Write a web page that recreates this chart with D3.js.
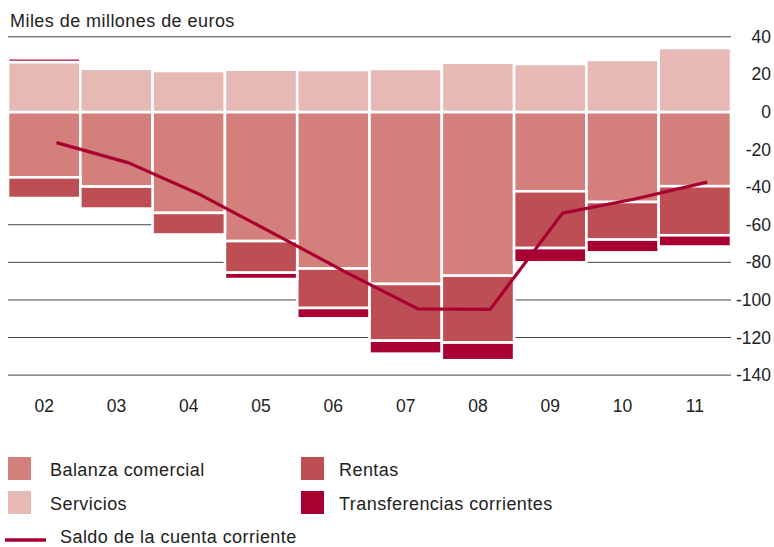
<!DOCTYPE html>
<html>
<head>
<meta charset="utf-8">
<script src="https://cdn.jsdelivr.net/npm/d3@7"></script>
<style>
  body { margin: 0; background: #fff; }
  svg text { font-family: "Liberation Sans", Arial, sans-serif; fill: #222; }
  svg text.label { letter-spacing: 0.45px; }
</style>
</head>
<body>
<div id="chart"></div>
<script>
// Data (miles de millones de euros)
var years          = [ '02', '03', '04', '05', '06', '07', '08', '09', '10', '11' ];
var balanza        = [ -34.8, -39.7, -53.7, -68.7, -83.3, -91.5, -87.1, -42.2, -47.9, -39.5 ];
var servicios      = [ 26.6, 23.0, 21.8, 22.5, 22.3, 22.9, 26.2, 25.5, 27.7, 34.0 ];
var rentas         = [ -11.0, -11.7, -11.5, -16.8, -21.0, -30.2, -35.6, -30.2, -20.0, -26.1 ];
var transferencias = [ 2.0, 0, 0, -3.4, -5.5, -6.9, -9.4, -7.6, -6.8, -6.0 ];
var saldo          = [ -16.3, -27.1, -44.2, -64.6, -85.2, -104.8, -105.0, -53.8, -46.3, -37.3 ];
var y_ticks        = [ 40, 20, 0, -20, -40, -60, -80, -100, -120, -140 ];

var keys   = [ 'balanza', 'servicios', 'rentas', 'transferencias' ];
var names  = {
    balanza: 'Balanza comercial',
    servicios: 'Servicios',
    rentas: 'Rentas',
    transferencias: 'Transferencias corrientes'
};
var colors = {
    balanza: '#d3807c',
    servicios: '#e6b9b4',
    rentas: '#bd4e54',
    transferencias: '#a80030'
};
var line_color = '#a80030';

var rows = years.map(function(y, i) {
    return {
        year: y,
        balanza: balanza[i],
        servicios: servicios[i],
        rentas: rentas[i],
        transferencias: transferencias[i],
        saldo: saldo[i]
    };
});

// The SVG Element
var chart_width  = 774;
var chart_height = 547;
var svg = d3.select('#chart')
    .append('svg')
    .attr('width', chart_width)
    .attr('height', chart_height);

// Scales
var scale_x = d3.scaleBand()
    .domain(years)
    .range([ 8, 731 ]);

var scale_y = d3.scaleLinear()
    .domain([ 40, -140 ])
    .range([ 36.8, 375.1 ]);

// Gridlines + right axis labels
var axis_y = d3.axisRight(scale_y)
    .tickValues(y_ticks)
    .tickSize(0)
    .tickPadding(0);

var grid = svg.append('g').attr('class', 'grid');
grid.selectAll('line')
    .data(y_ticks)
    .enter()
    .append('line')
    .attr('x1', 8)
    .attr('x2', 731)
    .attr('y1', function(d) { return scale_y(d); })
    .attr('y2', function(d) { return scale_y(d); })
    .attr('stroke', '#444')
    .attr('stroke-width', 1);

var gy = svg.append('g')
    .attr('class', 'y-axis')
    .attr('transform', 'translate(771,0)')
    .call(axis_y);
gy.select('.domain').remove();
gy.selectAll('text')
    .attr('x', 0)
    .attr('text-anchor', 'end')
    .style('font-size', '17.5px')
    .text(function(d) { return d; });

// Title
svg.append('text')
    .attr('class', 'label')
    .attr('x', 10)
    .attr('y', 27)
    .style('font-size', '18px')
    .text('Miles de millones de euros');

// Stacked bars
var stack = d3.stack()
    .keys(keys)
    .offset(d3.stackOffsetDiverging);
var series = stack(rows);

var bar_groups = svg.append('g')
    .attr('class', 'bars')
    .selectAll('g')
    .data(series)
    .enter()
    .append('g')
    .attr('fill', function(s) { return colors[s.key]; });

bar_groups.selectAll('rect')
    .data(function(s) {
        return s.filter(function(d) { return d[1] - d[0] !== 0; });
    })
    .enter()
    .append('rect')
    .attr('x', function(d) { return scale_x(d.data.year); })
    .attr('width', scale_x.bandwidth())
    .attr('y', function(d) { return scale_y(d[1]); })
    .attr('height', function(d) { return scale_y(d[0]) - scale_y(d[1]); })
    .attr('stroke', '#fff')
    .attr('stroke-width', 2.6);

// X labels
svg.append('g')
    .attr('class', 'x-labels')
    .selectAll('text')
    .data(years)
    .enter()
    .append('text')
    .attr('x', function(d) { return scale_x(d) + scale_x.bandwidth() / 2; })
    .attr('y', 412)
    .attr('text-anchor', 'middle')
    .style('font-size', '17.5px')
    .text(function(d) { return d; });

// Saldo line (drawn slightly right of the bar centre, like the original)
var line = d3.line()
    .x(function(d) { return scale_x(d.year) + scale_x.bandwidth() * 0.67; })
    .y(function(d) { return scale_y(d.saldo); });

svg.append('path')
    .datum(rows)
    .attr('d', line)
    .attr('fill', 'none')
    .attr('stroke', line_color)
    .attr('stroke-width', 3.2)
    .attr('stroke-linejoin', 'round');

// Legend
var legend_items = [
    { key: 'balanza', x: 8, y: 457 },
    { key: 'servicios', x: 8, y: 491 },
    { key: 'rentas', x: 301, y: 457 },
    { key: 'transferencias', x: 301, y: 491 }
];

var legend = svg.append('g').attr('class', 'legend');
var li = legend.selectAll('g')
    .data(legend_items)
    .enter()
    .append('g')
    .attr('transform', function(d) { return 'translate(' + d.x + ',' + d.y + ')'; });

li.append('rect')
    .attr('width', 23)
    .attr('height', 23)
    .attr('fill', function(d) { return colors[d.key]; });

li.append('text')
    .attr('class', 'label')
    .attr('x', function(d) { return d.x === 8 ? 42 : 38; })
    .attr('y', 19)
    .style('font-size', '18px')
    .text(function(d) { return names[d.key]; });

legend.append('line')
    .attr('x1', 5)
    .attr('x2', 46)
    .attr('y1', 540)
    .attr('y2', 540)
    .attr('stroke', line_color)
    .attr('stroke-width', 3.5);

legend.append('text')
    .attr('class', 'label')
    .attr('x', 60)
    .attr('y', 543)
    .style('font-size', '18px')
    .text('Saldo de la cuenta corriente');
</script>
</body>
</html>
